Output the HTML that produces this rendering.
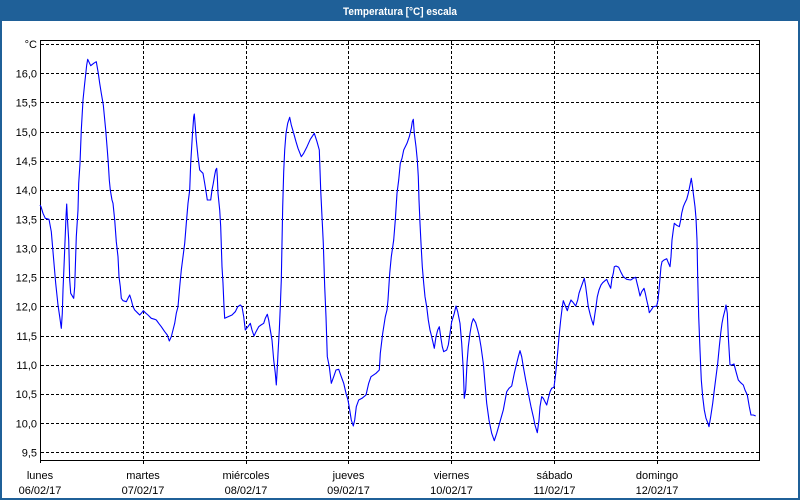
<!DOCTYPE html>
<html>
<head>
<meta charset="utf-8">
<style>
  html, body { margin: 0; padding: 0; background: #ffffff; }
  body { width: 800px; height: 500px; overflow: hidden; }
  svg { display: block; }
  text { font-family: "Liberation Sans", "DejaVu Sans", sans-serif; font-size: 11px; fill: #000; }
</style>
</head>
<body>
<svg width="800" height="500" viewBox="0 0 800 500" xmlns="http://www.w3.org/2000/svg">
  <!-- window frame -->
  <rect x="0" y="0" width="800" height="500" fill="#ffffff"/>
  <rect x="0" y="0" width="800" height="21" fill="#1f6098"/>
  <rect x="0" y="0" width="2" height="500" fill="#1f6098"/>
  <rect x="798" y="0" width="2" height="500" fill="#1f6098"/>
  <rect x="0" y="498" width="800" height="2" fill="#1f6098"/>
  <text x="400" y="15" text-anchor="middle" textLength="114" lengthAdjust="spacingAndGlyphs" style="font-weight:bold; fill:#ffffff;">Temperatura [°C] escala</text>

  <!-- horizontal dashed gridlines -->
  <g stroke="#000" stroke-width="1" stroke-dasharray="3 2" shape-rendering="crispEdges">
    <line x1="41" y1="44.5" x2="760" y2="44.5"/>
    <line x1="41" y1="73.5" x2="760" y2="73.5"/>
    <line x1="41" y1="102.5" x2="760" y2="102.5"/>
    <line x1="41" y1="132.5" x2="760" y2="132.5"/>
    <line x1="41" y1="161.5" x2="760" y2="161.5"/>
    <line x1="41" y1="190.5" x2="760" y2="190.5"/>
    <line x1="41" y1="219.5" x2="760" y2="219.5"/>
    <line x1="41" y1="248.5" x2="760" y2="248.5"/>
    <line x1="41" y1="277.5" x2="760" y2="277.5"/>
    <line x1="41" y1="306.5" x2="760" y2="306.5"/>
    <line x1="41" y1="336.5" x2="760" y2="336.5"/>
    <line x1="41" y1="365.5" x2="760" y2="365.5"/>
    <line x1="41" y1="394.5" x2="760" y2="394.5"/>
    <line x1="41" y1="423.5" x2="760" y2="423.5"/>
    <line x1="41" y1="452.5" x2="760" y2="452.5"/>
  </g>
  <!-- vertical dashed gridlines -->
  <g stroke="#000" stroke-width="1" stroke-dasharray="3 2" shape-rendering="crispEdges">
    <line x1="143.5" y1="41" x2="143.5" y2="464"/>
    <line x1="246.5" y1="41" x2="246.5" y2="464"/>
    <line x1="348.5" y1="41" x2="348.5" y2="464"/>
    <line x1="451.5" y1="41" x2="451.5" y2="464"/>
    <line x1="554.5" y1="41" x2="554.5" y2="464"/>
    <line x1="657.5" y1="41" x2="657.5" y2="464"/>
  </g>
  <!-- plot frame -->
  <rect x="40.5" y="40.5" width="719" height="420" fill="none" stroke="#000" stroke-width="1" shape-rendering="crispEdges"/>
  <line x1="40.5" y1="460" x2="40.5" y2="463" stroke="#000" stroke-width="1" shape-rendering="crispEdges"/>

  <!-- y labels -->
  <g text-anchor="end">
    <text x="37" y="48">°C</text>
    <text x="37" y="77.5">16,0</text>
    <text x="37" y="106.5">15,5</text>
    <text x="37" y="136">15,0</text>
    <text x="37" y="165">14,5</text>
    <text x="37" y="194">14,0</text>
    <text x="37" y="223.5">13,5</text>
    <text x="37" y="252.5">13,0</text>
    <text x="37" y="281.5">12,5</text>
    <text x="37" y="310.5">12,0</text>
    <text x="37" y="340">11,5</text>
    <text x="37" y="369">11,0</text>
    <text x="37" y="398">10,5</text>
    <text x="37" y="427.5">10,0</text>
    <text x="37" y="456.5">9,5</text>
  </g>

  <!-- x labels -->
  <g text-anchor="middle">
    <text x="40" y="479">lunes</text>
    <text x="40" y="494">06/02/17</text>
    <text x="143" y="479">martes</text>
    <text x="143" y="494">07/02/17</text>
    <text x="246" y="479">miércoles</text>
    <text x="246" y="494">08/02/17</text>
    <text x="348.5" y="479">jueves</text>
    <text x="348.5" y="494">09/02/17</text>
    <text x="451.5" y="479">viernes</text>
    <text x="451.5" y="494">10/02/17</text>
    <text x="554.5" y="479">sábado</text>
    <text x="554.5" y="494">11/02/17</text>
    <text x="657" y="479">domingo</text>
    <text x="657" y="494">12/02/17</text>
  </g>

  <!-- temperature series -->
  <polyline fill="none" stroke="#0000ff" stroke-width="1.1" stroke-linejoin="round" points="
40,205 41,206.7 43,213.3 45.3,218.3 49,219.3 51.3,231.7 53.7,260 55.7,283.3 58,305 59.7,316.7 61.3,328.3 62.3,313.3 63,290 64,266.7 66,216.7 66.7,204 67.3,216.7 68.7,240 69.7,280 70.7,293.3 73.7,298.3 74.7,286.7 76.3,236.7 78,210 78.7,183.3 80,163.3 81.3,130 83,100 84.7,83.3 86.7,65 87.7,59.3 90.7,65.7 93.7,63.3 96.3,61.7 98.3,73.3 99.7,83.3 101.3,93.3 103.3,105 105.7,130 107.3,150 108.3,163.3 109.3,180 110.3,190 112,200 113,203.3 114.7,220 116.3,241.7 118,256.7 119,276.7 120.3,286.7 121.3,298.3 123,300.7 126.3,301.7 128,298.3 129.7,295 131.3,300 133,306.7 134.7,310 138,313.3 139.7,315 141.3,313.3 143.3,310.7 145.3,312.7 148,315 151.3,318.3 154.7,319.3 156.3,320 158.7,323.3 161.3,326.7 164.7,331.7 167.3,335 169.3,341 171.3,336.7 173,330 174.7,323.3 176.3,313.3 178,306.7 179.7,286.7 181.3,270 183,256.7 184.7,243.3 186.3,223.3 188,203.3 189.7,190 190.7,163.3 192.3,136.7 193.7,116.7 194.3,114 195.3,126.7 196.3,140 198,156.7 199.7,170 203,173.3 204.7,183.3 206.3,193.3 207.3,200 210.7,200 212,190 213.3,183.3 214.7,175 215.7,170 216.7,168.3 217.3,176.7 218,193.3 219.7,210 220.7,226.7 222,266.7 223,283.3 224,306.7 224.7,318.3
232,315 235.3,311.7 237.7,306.7 240.3,305 242,306.7 243.7,316.7 245.3,330 248,326.7 250.3,323.3 252,330 254,336 256,331.7 258.7,326.7 261,325 263.7,323.3 265.3,318.3 267.3,314.3 268.7,320 270.3,330 272,340 273.7,360 275.3,373.3 276.3,385 277,373.3 278,353.3 279.3,330 280.3,306.7 281.3,280 282,243.3 282.7,206.7 283.7,171.7 284.7,150 286,133.3 287.7,123.3 289.7,117.3 291.3,125 293.7,133.3 296,141.7 298,148.3 301.3,156.7 303.7,153.3 307,146.7 310.3,139.3 314.3,133.3 317,141.7 319.3,150 320.7,190 322,216.7 323.3,243.3 324.7,286.7 326,316.7 327.3,356.7 329.3,366.7 331.3,383.3 333.7,376.7 336,370 338.7,369.3 341.3,376.7 343.7,383.3 346,393.3 348,400 349.7,410 351.3,420 353.3,426 354.7,420 356.3,406.7 358.7,400 362,398.3 366,395 368.7,383.3 371,376.7 376,373.3 379.3,370 380.3,353.3 382.7,333.3 385.3,316.7 387,310 388,300 389.7,273.3 391.3,256.7 393.7,240 395.3,220 397,193.3 398.7,180 400.3,163.3 402,158.3 403.7,150 407,143.3 409.3,136.7 411.3,128.3
412.3,121.7 413.3,119.3 414.3,133.3 416,146.7 417.3,160 418.3,176.7 419,200 420,223.3 421,243.3 422.3,266.7 423.7,283.3 425,296.7 426.7,306.7 428.3,320 430,330 431.7,336.7 434.3,348.3 436,336.7 437.7,330 439.3,326.7 440.7,336.7 442.3,346.7 443.7,351.7 446.7,350 448.3,345 450,333.3 451.7,321.7 454.3,313.3 456,306 457.7,311.7 460,323.3 461.7,343.3 463.3,370 464.3,398.3 465.7,390 467,363.3 468.3,346.7 470,333.3 471.7,323.3 473.3,318.7 475.7,322.7 477.7,330 479,335 481,346.7 483.3,363.3 485,383.3 486.7,403.3 489,420 491.7,433.3 494.3,440.7 496.7,433.3 500,421.7 503.3,410 506.7,391.7 509,388.3 511.7,386 514.3,373.3 516.7,363.3 518.3,356.7 520,350.7 521.7,356.7 523.3,366.7 525.7,380 528.3,393.3 531,406.7 533.3,416.7 535,425 537.3,432.7 539,420 540,406.7 541.7,396.7 543.3,398.3 545,401.7 546.7,405 548.3,398.3 550,391.7 551.7,388.3 554,387.3 555.7,373.3 557.3,356.7 559,336.7 560.7,320 562.3,306.7 563.3,300.7 565,305 567.3,310.7 569,305 571,300 573.3,302.7 575.7,306 577.7,300 579,293.3 580.7,288.3 582.7,282.7 584.3,278.3 585.7,286.7 587,296.7 588.3,306.7 590.3,315 591.7,320 593.3,325
595,313.3 596,306.7 597.3,296.7 599,290 601,285 602.7,282.7 605,280.7 606.7,279.3 608.3,283.3 610.7,288.3 612,278.3 613.3,273.3 614.3,266.7 616,266 618.7,267.3 620.7,271.7 623.3,276.7 626.7,279.3 630.7,280 633.3,278.3 635.7,277.3 636.7,281.7 638.3,288.3 640,296 641.7,291.7 644,288.3 645.3,293.3 646.7,300 648.3,306.7 649.3,312.7 651.7,309.3 653.3,306.7 656.7,306 658,300 659,290 660,278.3 661,266.7 662,261.7 664,260 666.7,258.7 668.3,262.7 670,266.7 671,256.7 672,240 673.3,230 674.3,223.3 676.7,225.3 679.3,226.7 680.7,220 681.7,213.3 683.3,206.7 685,202.7 686.7,199.3 688.3,193.3 690,185 691.3,178.3 692.3,185 693.3,193.3 695,206.7 696,218.3 697,240 697.7,276.7 698.7,316.7 700,350 701.3,380 702.7,396.7 704.3,410 706,418.3 708,423.3 709,426.7 710.7,416.7 712.7,403.3 714.3,390 716,376.7 717.7,363.3 719.3,346.7 720.7,333.3 722,323.3 723.3,316.7 725,310 726,305 727.3,313.3 728.3,336.7 730,365 731.7,365 734,364 736,371.7 738.3,380 740.7,382.7 743.3,385 745,390 747.3,395 749.3,406.7 751,415 753.3,415 755.7,416"/>
</svg>
</body>
</html>
